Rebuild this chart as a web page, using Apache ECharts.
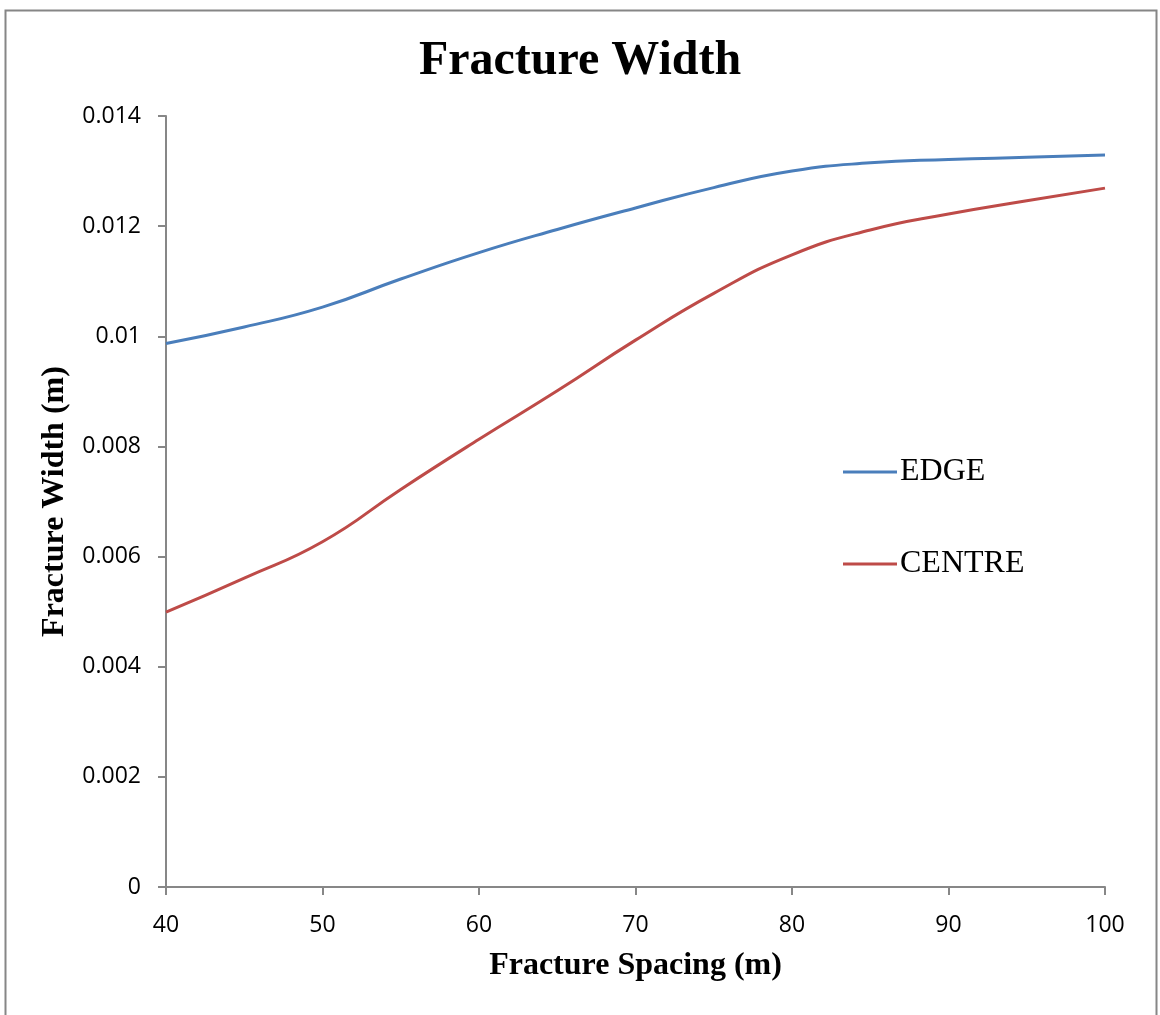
<!DOCTYPE html>
<html>
<head>
<meta charset="utf-8">
<script src="https://cdn.jsdelivr.net/npm/echarts@6/dist/echarts.min.js"></script>
<style>
html,body{margin:0;padding:0;background:#fff;}
#chart{width:1160px;height:1015px;}
</style>
</head>
<body>
<div id="chart"></div>
<script>
const spacing = [40, 45, 50, 55, 60, 65, 70, 75, 80, 85, 90, 95, 100];
const edge = [0.00987, 0.01017, 0.01053, 0.01104, 0.01152, 0.01194, 0.01233, 0.01270, 0.01300, 0.01315, 0.01321, 0.01325, 0.01329];
const centre = [0.00499, 0.00561, 0.00627, 0.00722, 0.00813, 0.00901, 0.00993, 0.01078, 0.01148, 0.01193, 0.01222, 0.01246, 0.01269];
const seriesNames = ['EDGE', 'CENTRE'];
const titleText = 'Fracture Width';
const xName = 'Fracture Spacing (m)';
const yName = 'Fracture Width (m)';

const chart = echarts.init(document.getElementById('chart'), null, {renderer: 'canvas'});
const axisGray = '#878787';
const tickFont = "'Open Sans', sans-serif";
const serif = "'Liberation Serif', 'Times New Roman', serif";

chart.setOption({
  animation: false,
  backgroundColor: '#ffffff',
  graphic: [{
    type: 'rect', left: 3, top: 8,
    shape: {x: 0, y: 0, width: 1151, height: 1030},
    style: {fill: 'none', stroke: '#868686', lineWidth: 2},
    silent: true
  }],
  title: {
    text: titleText, left: 'center', top: 33,
    textStyle: {fontFamily: serif, fontWeight: 'bold', fontSize: 48, color: '#000'}
  },
  legend: {
    orient: 'vertical', left: 838, top: 451,
    itemWidth: 54, itemHeight: 3, itemGap: 60,
    icon: 'rect',
    textStyle: {fontFamily: serif, fontSize: 32, color: '#000', padding: [0,0,0,-2]},
    data: seriesNames
  },
  grid: {left: 166, right: 55, top: 116, bottom: 128},
  xAxis: {
    type: 'value', min: 40, max: 100, interval: 10,
    name: xName, nameLocation: 'middle', nameGap: 63,
    nameTextStyle: {fontFamily: serif, fontWeight: 'bold', fontSize: 32, color: '#000'},
    axisLine: {show: true, onZero: false, lineStyle: {color: axisGray, width: 2}},
    axisTick: {show: true, length: 8, lineStyle: {color: axisGray, width: 2}},
    axisLabel: {margin: 27, fontFamily: tickFont, fontSize: 23, color: '#000'},
    splitLine: {show: false}
  },
  yAxis: {
    type: 'value', min: 0, max: 0.014, interval: 0.002,
    name: yName, nameLocation: 'middle', nameGap: 95, nameRotate: 90,
    nameTextStyle: {fontFamily: serif, fontWeight: 'bold', fontSize: 32, color: '#000'},
    axisLine: {show: true, lineStyle: {color: axisGray, width: 2}},
    axisTick: {show: true, length: 8, lineStyle: {color: axisGray, width: 2}},
    axisLabel: {margin: 25, fontFamily: tickFont, fontSize: 23, color: '#000',
      formatter: v => String(Number(v.toFixed(4)))},
    splitLine: {show: false}
  },
  series: [
    {name: seriesNames[0], type: 'line', smooth: 0.5, symbol: 'none',
     color: '#4A7EBB', lineStyle: {color: '#4A7EBB', width: 3},
     data: spacing.map((x, i) => [x, edge[i]])},
    {name: seriesNames[1], type: 'line', smooth: 0.5, symbol: 'none',
     color: '#BE4B48', lineStyle: {color: '#BE4B48', width: 3},
     data: spacing.map((x, i) => [x, centre[i]])}
  ]
});
</script>
</body>
</html>
